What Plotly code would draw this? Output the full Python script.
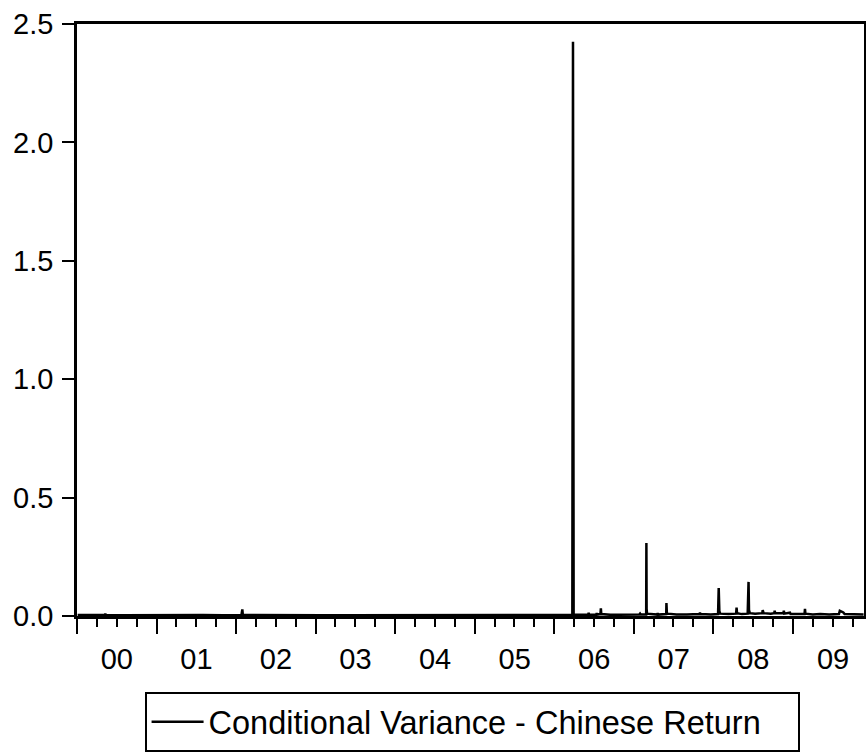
import plotly.graph_objects as go

dates = [
    "2000-01-04", "2000-02-15", "2000-04-10", "2000-05-08", "2000-05-10", "2000-05-12",
    "2000-08-01", "2000-11-01", "2001-02-01", "2001-05-01", "2001-08-01", "2001-11-01",
    "2002-01-25", "2002-01-29", "2002-01-31", "2002-02-05", "2002-06-01", "2002-10-01",
    "2003-02-01", "2003-06-01", "2003-10-01", "2004-02-01", "2004-06-01", "2004-10-01",
    "2005-02-01", "2005-06-01", "2005-10-01", "2006-01-10", "2006-03-24", "2006-03-27",
    "2006-03-28", "2006-03-30", "2006-05-01", "2006-06-05", "2006-06-07", "2006-06-09",
    "2006-07-12", "2006-07-14", "2006-07-17", "2006-07-31", "2006-08-02", "2006-08-04",
    "2006-09-15", "2006-11-01", "2006-12-20", "2007-01-26", "2007-01-29", "2007-02-01",
    "2007-02-26", "2007-02-27", "2007-02-28", "2007-03-02", "2007-04-18", "2007-04-20",
    "2007-04-23", "2007-05-29", "2007-05-30", "2007-06-01", "2007-06-05", "2007-07-15",
    "2007-09-01", "2007-10-29", "2007-10-31", "2007-11-02", "2007-12-20", "2008-01-22",
    "2008-01-25", "2008-01-28", "2008-02-01", "2008-03-10", "2008-04-14", "2008-04-16",
    "2008-04-18", "2008-05-10", "2008-06-06", "2008-06-10", "2008-06-12", "2008-06-16",
    "2008-07-10", "2008-08-12", "2008-08-14", "2008-08-18", "2008-09-20", "2008-10-06",
    "2008-10-08", "2008-10-10", "2008-11-17", "2008-11-19", "2008-11-21", "2008-12-17",
    "2008-12-20", "2009-01-20", "2009-02-22", "2009-02-24", "2009-02-26", "2009-04-01",
    "2009-05-05", "2009-06-15", "2009-07-30", "2009-08-03", "2009-08-12", "2009-08-19",
    "2009-08-25", "2009-10-01", "2009-11-20",
]
cond_var = [
    0.004, 0.003, 0.003, 0.004, 0.010, 0.004,
    0.003, 0.004, 0.003, 0.003, 0.004, 0.003,
    0.004, 0.028, 0.008, 0.004, 0.003, 0.003,
    0.003, 0.003, 0.003, 0.003, 0.004, 0.003,
    0.003, 0.004, 0.003, 0.004, 0.004, 2.425,
    0.020, 0.006, 0.005, 0.006, 0.014, 0.005,
    0.006, 0.012, 0.006, 0.008, 0.032, 0.008,
    0.005, 0.005, 0.006, 0.006, 0.010, 0.006,
    0.006, 0.308, 0.030, 0.010, 0.006, 0.012,
    0.006, 0.008, 0.055, 0.012, 0.010, 0.006,
    0.006, 0.008, 0.014, 0.008, 0.006, 0.008,
    0.118, 0.020, 0.010, 0.008, 0.010, 0.035,
    0.012, 0.008, 0.010, 0.144, 0.025, 0.012,
    0.010, 0.012, 0.025, 0.012, 0.010, 0.012,
    0.022, 0.012, 0.012, 0.022, 0.010, 0.014,
    0.008, 0.008, 0.008, 0.030, 0.010, 0.006,
    0.008, 0.006, 0.008, 0.022, 0.018, 0.015,
    0.008, 0.006, 0.006,
]
y_ticks = [0.0, 0.5, 1.0, 1.5, 2.0, 2.5]
series_name = "Conditional Variance - Chinese Return"

FONT = "Arial, Liberation Sans, Helvetica, sans-serif"

fig = go.Figure()
fig.add_trace(go.Scatter(
    x=dates, y=cond_var, mode="lines", name=series_name,
    line=dict(color="black", width=2.5),
    showlegend=True,
))

fig.update_layout(
    width=866, height=752,
    margin=dict(l=77, r=2, t=24, b=136, autoexpand=False),
    paper_bgcolor="white", plot_bgcolor="white",
    font=dict(family=FONT, color="black", size=29),
    showlegend=True,
    legend=dict(
        orientation="h", x=0.502, xanchor="center",
        yref="container", y=0.0, yanchor="bottom",
        bordercolor="black", borderwidth=2, bgcolor="white",
        font=dict(size=32.5, family=FONT, color="black"),
        itemwidth=52, entrywidth=584,
    ),
    xaxis=dict(
        type="date", range=["2000-01-01", "2009-11-22"],
        dtick="M12", tick0="2000-01-01", tickformat="%y", ticklabelmode="period",
        ticks="outside", ticklen=15, tickwidth=2, tickcolor="black",
        showline=True, linecolor="black", linewidth=2.5, mirror=True,
        showgrid=False, zeroline=False,
        minor=dict(dtick="M3", tick0="2000-01-01", ticks="outside", ticklen=8,
                   tickwidth=2, tickcolor="black", showgrid=False),
        tickfont=dict(size=29, family=FONT),
    ),
    yaxis=dict(
        range=[0, 2.5], tickvals=y_ticks, tickformat=".1f",
        ticks="outside", ticklen=12, tickwidth=2, tickcolor="black",
        showline=True, linecolor="black", linewidth=2.5, mirror=True,
        showgrid=False, zeroline=False,
        tickfont=dict(size=29, family=FONT),
        ticklabelstandoff=3,
    ),
)

fig.write_html("out.html")
